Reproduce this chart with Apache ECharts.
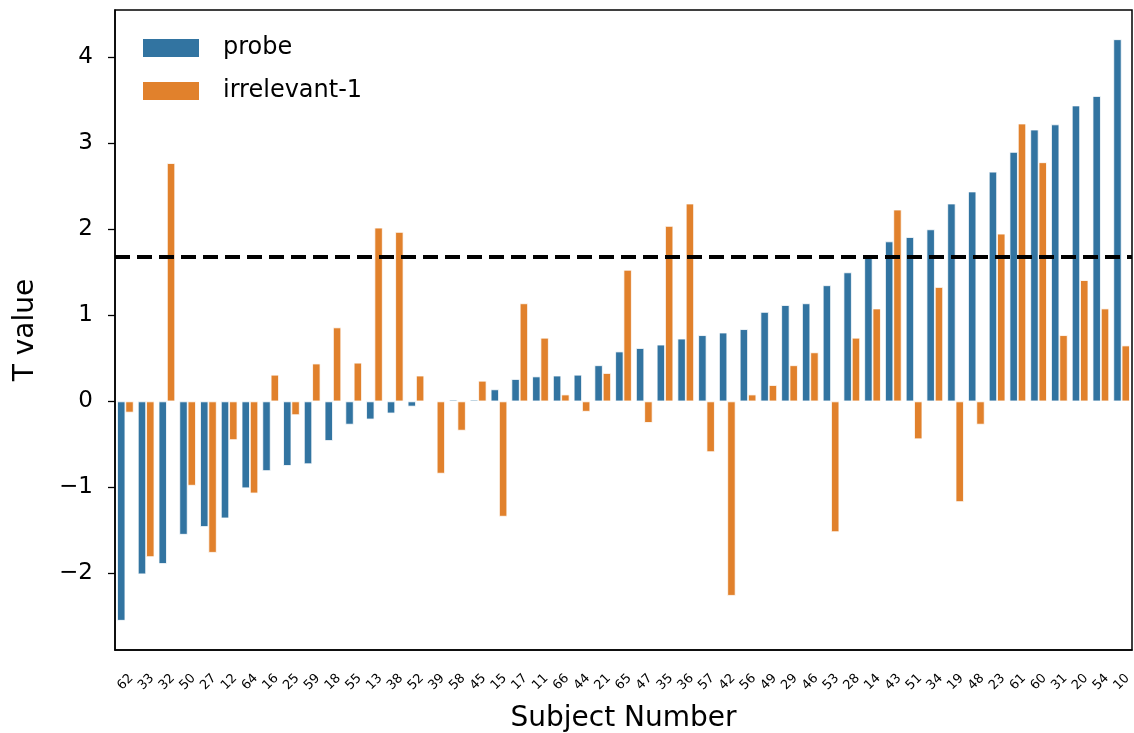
<!DOCTYPE html>
<html>
<head>
<meta charset="utf-8">
<script src="https://cdn.jsdelivr.net/npm/echarts@6/dist/echarts.min.js"></script>
<style>
  html, body { margin: 0; padding: 0; background: #fff; }
  #chart { width: 1134px; height: 733px; }
</style>
</head>
<body>
<div id="chart"></div>
<script>
const subjects = ['62', '33', '32', '50', '27', '12', '64', '16', '25', '59', '18', '55', '13', '38', '52',
  '39', '58', '45', '15', '17', '11', '66', '44', '21', '65', '47', '35', '36', '57', '42',
  '56', '49', '29', '46', '53', '28', '14', '43', '51', '34', '19', '48', '23', '61', '60', '31', '20', '54', '10']

const probe = [-2.55, -2.01, -1.89, -1.55, -1.46, -1.36, -1.01, -0.81, -0.75, -0.73, -0.46, -0.27, -0.21, -0.14, -0.06,
  0.005, 0.02, 0.02, 0.14, 0.26, 0.29, 0.30, 0.31, 0.42, 0.58, 0.62, 0.66, 0.73, 0.77, 0.80,
  0.84, 1.04, 1.12, 1.14, 1.35, 1.50, 1.67, 1.86, 1.91, 2.00, 2.30, 2.44, 2.67, 2.90, 3.16, 3.22, 3.44, 3.55, 4.21]

const irrelevant = [-0.13, -1.81, 2.77, -0.98, -1.76, -0.45, -1.07, 0.31, -0.16, 0.44, 0.86, 0.45, 2.02, 1.97, 0.30,
  -0.84, -0.34, 0.24, -1.34, 1.14, 0.74, 0.08, -0.12, 0.33, 1.53, -0.25, 2.04, 2.30, -0.59, -2.26,
  0.08, 0.19, 0.42, 0.57, -1.52, 0.74, 1.08, 2.23, -0.44, 1.33, -1.17, -0.27, 1.95, 3.23, 2.78, 0.77, 1.41, 1.08, 0.65]

const yTicks = [-2, -1, 0, 1, 2, 3, 4]
const threshold = 1.68

const chart = echarts.init(document.getElementById('chart'))
const font = 'DejaVu Sans'

const barStyle = color => ({ color: color, borderColor: '#fff', borderWidth: 0.8 })

chart.setOption({
  animation: false,
  textStyle: { fontFamily: font },
  grid: {
    left: 115, right: 2, top: 10, bottom: 83,
    containLabel: false,
    outerBoundsMode: 'none',
    show: true, borderColor: '#000', borderWidth: 1.5, backgroundColor: 'transparent'
  },
  legend: {
    orient: 'vertical',
    left: 141,
    top: 36,
    padding: 0,
    itemWidth: 58,
    itemHeight: 20,
    itemGap: 19,
    icon: 'rect',
    textStyle: { fontFamily: font, fontSize: 24, color: '#000', padding: [0, 0, 0, 18] },
    data: ['probe', 'irrelevant-1']
  },
  xAxis: {
    type: 'category',
    data: subjects,
    name: 'Subject Number',
    nameLocation: 'middle',
    nameGap: 55,
    nameTextStyle: { fontFamily: font, fontSize: 28, color: '#000' },
    axisLine: { onZero: false, lineStyle: { color: '#000', width: 1.5 } },
    axisTick: { alignWithLabel: true, length: 6, lineStyle: { color: '#000', width: 1.3 } },
    axisLabel: {
      rotate: 45,
      align: 'center',
      verticalAlign: 'middle',
      margin: 32,
      fontSize: 13,
      color: '#000',
      interval: 0
    },
    splitLine: { show: false }
  },
  yAxis: {
    type: 'value',
    min: -2.89,
    max: 4.55,
    name: 'T value',
    nameLocation: 'middle',
    nameGap: 75,
    nameTextStyle: { fontFamily: font, fontSize: 28, color: '#000' },
    axisLine: { show: true, lineStyle: { color: '#000', width: 1.5 } },
    axisTick: { show: true, length: 7, customValues: yTicks, lineStyle: { color: '#000', width: 1.3 } },
    axisLabel: {
      customValues: yTicks,
      fontSize: 23,
      margin: 22,
      color: '#000',
      formatter: v => String(v).replace('-', '\u2212')
    },
    splitLine: { show: false }
  },
  series: [
    {
      name: 'probe',
      type: 'bar',
      data: probe,
      barGap: '0%',
      barCategoryGap: '20%',
      itemStyle: barStyle('#3274a1'),
      markLine: {
        silent: true,
        symbol: 'none',
        label: { show: false },
        lineStyle: { color: '#000', width: 4, type: [15, 7] },
        data: [{ yAxis: threshold }]
      }
    },
    {
      name: 'irrelevant-1',
      type: 'bar',
      data: irrelevant,
      barGap: '0%',
      barCategoryGap: '20%',
      itemStyle: barStyle('#e1812c')
    }
  ]
})
</script>
</body>
</html>
